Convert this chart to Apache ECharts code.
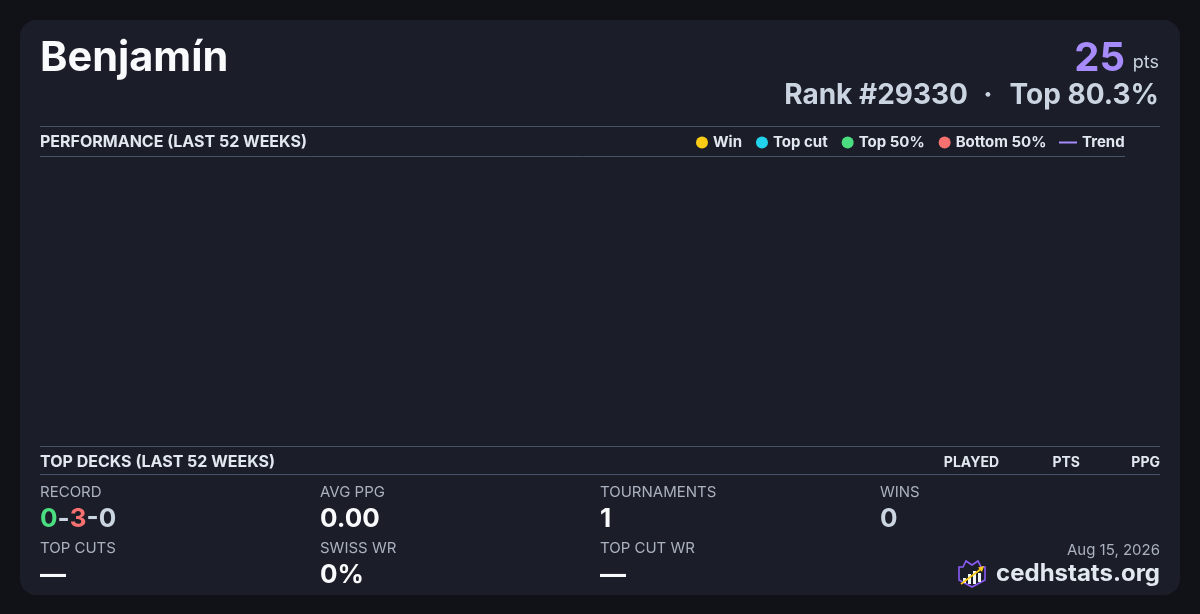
<!DOCTYPE html>
<html><head><meta charset="utf-8">
<script src="https://cdn.jsdelivr.net/npm/echarts/dist/echarts.min.js"></script>
<style>html,body{margin:0;padding:0;background:#111217;}#c{width:1200px;height:614px;}</style>
</head><body><div id="c"></div>
<script>
// ---- data ----
const playerName = 'Benjamín';
const points = 25;
const rankNo = 29330;
const topPct = '80.3%';
const weeks = [];            // no events in the last 52 weeks
const winData = [];
const topCutData = [];
const top50Data = [];
const bottom50Data = [];
const trendData = [];
const legendNames = ['Win', 'Top cut', 'Top 50%', 'Bottom 50%'];
const trendName = 'Trend';
const deckColumns = ['PLAYED', 'PTS', 'PPG'];
const record = [0, 3, 0];
const statLabelsRow1 = ['RECORD', 'AVG PPG', 'TOURNAMENTS', 'WINS'];
const statValuesRow1 = [null, '0.00', '1', '0'];
const statLabelsRow2 = ['TOP CUTS', 'SWISS WR', 'TOP CUT WR'];
const statValuesRow2 = ['—', '0%', '—'];
const dateText = 'Aug 15, 2026';
const siteText = 'cedhstats.org';

// ---- styling ----
const FONT = 'Inter, "Noto Sans", sans-serif';
const seriesColors = ['#facc15', '#22d3ee', '#4ade80', '#f87171'];
const trendColor = '#a78bfa';
const lineColor = '#46536a';
const cardColor = '#1b1d28';
const labelColor = '#aab1bf';

function txt(x, y, text, size, weight, fill, align) {
  return { type: 'text', silent: true, style: {
    x: x, y: y, text: text, fill: fill, align: align || 'left', verticalAlign: 'middle',
    font: (weight || 'normal') + ' ' + size + 'px ' + FONT } };
}
function hline(x1, x2, y) {
  return { type: 'line', silent: true, shape: { x1: x1, y1: y, x2: x2, y2: y },
    style: { stroke: lineColor, lineWidth: 1 } };
}

const colX = [40, 320, 600, 880];
const LX = -1; // logo x shift
const graphics = [
  { type: 'rect', silent: true, z: -10, shape: { x: 20, y: 20, width: 1160, height: 575, r: 16 }, style: { fill: cardColor } },
  txt(40, 59, playerName, 41.5, 'bold', '#f8fafc'),
  txt(1125, 59, String(points), 40, 'bold', trendColor, 'right'),
  txt(1159, 63, 'pts', 18, 'normal', '#cbd5e1', 'right'),
  txt(1159, 96, 'Top ' + topPct, 28, 'bold', '#cbd5e1', 'right'),
  txt(988, 96, '·', 28, 'bold', '#cbd5e1', 'center'),
  txt(968, 96, 'Rank #' + rankNo, 28, 'bold', '#cbd5e1', 'right'),
  hline(40, 1160, 126.5),
  txt(40, 142.5, 'PERFORMANCE (LAST 52 WEEKS)', 16, 'bold', '#e2e8f0'),
  hline(40, 1125, 156.5),
  hline(40, 1160, 446.5),
  txt(40, 462.5, 'TOP DECKS (LAST 52 WEEKS)', 16, 'bold', '#e2e8f0'),
  txt(999, 462.5, deckColumns[0], 14, 'bold', '#e2e8f0', 'right'),
  txt(1080, 462.5, deckColumns[1], 14, 'bold', '#e2e8f0', 'right'),
  txt(1160, 462.5, deckColumns[2], 14, 'bold', '#e2e8f0', 'right'),
  hline(40, 1160, 474.5),
  txt(1160, 550, dateText, 15, 'normal', labelColor, 'right'),
  txt(1160, 574, siteText, 24, 'bold', '#e2e8f0', 'right'),
  // logo
  { type: 'polygon', silent: true, shape: { points: [[959,567],[963,567],[966,561],[972,565],[978,561],[981,567],[985,567],[985,580],[972,587],[959,580]] },
    style: { fill: '#1b1d28', stroke: '#8b5cf6', lineWidth: 1.6 } },
  { type: 'rect', silent: true, shape: { x: 963, y: 578, width: 3, height: 5 }, style: { fill: '#f1f5f9' } },
  { type: 'rect', silent: true, shape: { x: 968, y: 574, width: 3, height: 10 }, style: { fill: '#f1f5f9' } },
  { type: 'rect', silent: true, shape: { x: 973, y: 571, width: 3, height: 13 }, style: { fill: '#f1f5f9' } },
  { type: 'rect', silent: true, shape: { x: 978, y: 573, width: 3, height: 9 }, style: { fill: '#f1f5f9' } },
  { type: 'line', silent: true, shape: { x1: 961, y1: 584, x2: 981, y2: 569 }, style: { stroke: '#facc15', lineWidth: 1.6 } },
  { type: 'polygon', silent: true, shape: { points: [[984,566],[978,567.5],[982,572]] }, style: { fill: '#facc15' } }
];
for (let i = 0; i < statLabelsRow1.length; i++) {
  graphics.push(txt(colX[i], 492.5, statLabelsRow1[i], 15, 'normal', labelColor));
}
graphics.push({ type: 'text', silent: true, style: {
  x: 40, y: 519, verticalAlign: 'middle', text: '{g|' + record[0] + '}{d|-}{r|' + record[1] + '}{d|-' + record[2] + '}',
  font: 'bold 26px ' + FONT,
  rich: {
    g: { fill: '#4ade80', font: 'bold 26px ' + FONT },
    r: { fill: '#f87171', font: 'bold 26px ' + FONT },
    d: { fill: '#cbd5e1', font: 'bold 26px ' + FONT }
  } } });
graphics.push(txt(colX[1], 519, statValuesRow1[1], 26, 'bold', '#f8fafc'));
graphics.push(txt(colX[2], 519, statValuesRow1[2], 26, 'bold', '#f8fafc'));
graphics.push(txt(colX[3], 519, statValuesRow1[3], 26, 'bold', '#cbd5e1'));
for (let i = 0; i < statLabelsRow2.length; i++) {
  graphics.push(txt(colX[i], 548.5, statLabelsRow2[i], 15, 'normal', labelColor));
  graphics.push(txt(colX[i], 575, statValuesRow2[i], 26, 'bold', '#f8fafc'));
}

const chart = echarts.init(document.getElementById('c'), null, { renderer: 'canvas' });
const seriesData = [winData, topCutData, top50Data, bottom50Data];
const series = legendNames.map((n, i) => ({
  name: n, type: 'scatter', data: seriesData[i], symbolSize: 10,
  itemStyle: { color: seriesColors[i], opacity: 1 }
}));
series.push({ name: trendName, type: 'line', data: trendData, showSymbol: false,
  lineStyle: { color: trendColor, width: 2 }, itemStyle: { color: trendColor } });

const legendText = { color: '#e2e8f0', fontSize: 15, fontWeight: 'bold', fontFamily: FONT };
chart.setOption({
  backgroundColor: '#111217',
  animation: false,
  textStyle: { fontFamily: FONT },
  grid: { left: 40, right: 75, top: 165, bottom: 175 },
  xAxis: { type: 'category', data: weeks, show: false },
  yAxis: { type: 'value', show: false },
  legend: [
    { data: legendNames, left: 696, top: 135, padding: 0, itemGap: 14, itemWidth: 12, itemHeight: 12,
      icon: 'circle', itemStyle: { opacity: 1 }, textStyle: legendText, selectedMode: false },
    { data: [trendName], left: 1059, top: 135, padding: 0, itemWidth: 18, itemHeight: 2, icon: 'rect',
      textStyle: legendText, selectedMode: false }
  ],
  series: series,
  graphic: graphics
});
</script>
</body></html>
